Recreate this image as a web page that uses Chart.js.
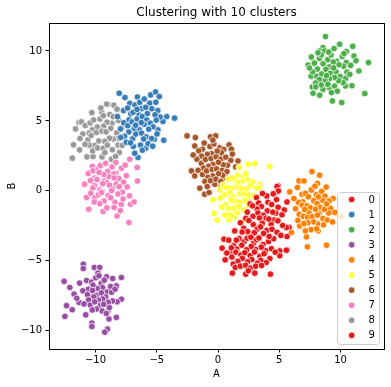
<!DOCTYPE html>
<html>
<head>
<meta charset="utf-8">
<script src="https://cdn.jsdelivr.net/npm/chart.js@4"></script>
<style>
  html, body { margin: 0; padding: 0; background: #fff; }
  #wrap { width: 391px; height: 387px; }
</style>
</head>
<body>
<div id="wrap"><canvas id="scatterChart" width="391" height="387"></canvas></div>
<script>
const chartTitle = 'Clustering with 10 clusters';
const clusterLabels = ['0', '1', '2', '3', '4', '5', '6', '7', '8', '9'];
const clusterColors = ['#e41a1c', '#377eb8', '#4daf4a', '#984ea3', '#ff7f00', '#ffff33', '#a65628', '#f781bf', '#999999', '#e41a1c'];
const xTicks = [-10, -5, 0, 5, 10];
const yTicks = [-10, -5, 0, 5, 10];

// points, [A, B]
const cluster0 = [[4.9,0.36],[4.85,-0.07],[5.63,-0.79],[5.8,-2.61],[5.63,-3.26],[4.82,0.31],[4.93,0.0],[5.58,-2.61],[1.36,-2.86],[1.5,-3.52],
  [2.62,-0.93],[3.14,-0.48],[3.31,-0.87],[3.97,-0.36],[4.08,-0.81],[4.77,-0.62],[4.91,-1.17],[5.41,-1.36],[4.72,-1.58],[4.38,-0.97],
  [4.02,-1.43],[3.54,-1.12],[3.18,-1.29],[2.81,-1.07],[2.39,-1.52],[2.27,-1.96],[2.86,-1.81],[3.26,-1.58],[3.71,-1.74],[3.92,-1.95],
  [4.47,-1.52],[4.58,-2.08],[5.22,-1.71],[5.27,-2.47],[4.89,-2.14],[4.33,-2.38],[4.14,-2.01],[3.61,-2.31],[3.38,-1.93],[2.88,-2.41],
  [2.51,-2.12],[2.09,-2.68],[2.42,-2.91],[3.19,-2.73],[3.47,-2.57],[3.98,-2.82],[4.41,-2.74],[4.82,-2.96],[5.13,-3.18],[4.54,-3.42],
  [4.17,-3.26],[3.72,-3.04],[3.34,-3.37],[2.96,-2.99],[2.68,-3.31],[1.97,-2.94],[4.51,-0.21],[3.63,-0.19],[1.82,-2.28]];
const cluster1 = [[-8.07,6.98],[-7.6,6.67],[-7.2,6.26],[-6.58,6.71],[-5.5,6.86],[-5.1,7.07],[-4.8,6.74],[-4.19,5.31],[-4.5,4.96],[-4.43,3.62],
  [-6.53,2.39],[-6.8,2.69],[-5.2,3.69],[-5.9,3.05],[-3.55,5.2],
  [-7.71,5.74],[-7.38,5.92],[-7.12,5.51],[-6.78,6.14],[-6.39,6.33],[-6.22,5.88],[-5.58,6.27],[-5.41,5.87],[-4.92,5.74],[-4.73,5.28],
  [-5.14,5.44],[-5.77,5.53],[-5.91,5.97],[-6.47,5.43],[-6.93,5.62],[-7.26,5.08],[-7.69,4.87],[-7.96,4.43],[-7.37,4.66],[-7.02,4.94],
  [-6.61,5.14],[-6.18,5.31],[-5.83,5.07],[-5.52,4.84],[-5.04,5.06],[-4.91,4.36],[-5.31,4.58],[-5.66,4.41],[-6.03,4.76],[-6.42,4.37],
  [-6.84,4.48],[-7.28,4.21],[-7.63,3.91],[-7.49,3.48],[-6.97,3.72],[-6.71,4.06],[-6.24,4.13],[-5.87,3.86],[-5.42,3.74],[-4.98,4.07],
  [-5.71,3.38],[-6.07,3.71],[-6.33,3.27],[-6.92,3.18],[-7.14,3.44],[-6.18,2.91],[-5.33,3.19],[-7.94,3.82],[-8.21,5.31],[-6.02,6.57],
  [-5.08,6.34],[-6.61,5.83],[-6.27,4.88],[-6.73,4.69]];
const cluster2 = [[8.77,11.03],[9.93,10.48],[11.0,10.33],[8.57,10.24],[9.47,10.17],[10.48,9.96],[8.3,10.0],[8.71,10.0],[11.1,9.64],[7.62,9.57],
  [12.28,9.17],[7.35,9.0],[11.5,8.57],[7.6,8.2],[10.4,7.5],[7.7,7.43],[8.57,7.26],[9.1,7.38],[9.26,7.03],[7.76,6.98],[8.3,6.84],
  [11.98,6.96],[9.34,6.43],[10.1,6.31],
  [7.87,9.13],[8.28,9.47],[8.43,9.72],[8.97,9.38],[9.22,9.71],[9.68,9.27],[10.14,9.61],[10.47,9.18],[10.83,8.97],[10.52,8.49],
  [10.24,8.91],[9.87,9.02],[9.41,9.21],[9.07,8.86],[8.58,9.08],[8.12,8.71],[7.73,8.51],[8.07,8.19],[8.47,8.36],[8.81,8.69],
  [9.16,8.41],[9.63,8.52],[9.97,8.17],[10.42,8.04],[10.76,8.33],[10.21,7.74],[9.84,7.88],[9.51,8.11],[9.09,8.02],[8.74,7.91],
  [8.27,7.96],[7.96,7.71],[8.42,7.57],[8.97,7.62],[9.52,7.49],[8.16,9.87],[9.03,9.92],[10.28,9.82],[9.44,8.79],[8.86,8.24],
  [7.47,8.78],[11.26,9.31],[10.93,7.52],[9.74,7.13],[7.98,7.43]];
const cluster3 = [[-11.0,-5.24],[-11.0,-5.55],[-10.1,-5.47],[-9.66,-5.47],[-9.8,-5.88],[-12.57,-6.47],[-12.1,-6.9],[-9.1,-6.14],[-8.6,-6.26],
  [-7.89,-6.19],[-8.3,-6.79],[-7.89,-7.74],[-8.24,-7.93],[-12.37,-8.2],[-11.9,-8.5],[-12.5,-8.97],[-10.8,-8.86],[-8.98,-8.57],[-8.9,-9.16],
  [-8.3,-9.04],[-10.3,-9.45],[-10.3,-9.69],[-9.03,-9.88],[-9.25,-10.1],[-11.3,-6.59],[-11.75,-7.38],[-11.35,-7.97],
  [-10.73,-6.41],[-10.32,-6.52],[-9.98,-6.21],[-9.54,-6.61],[-9.29,-6.38],[-8.77,-6.83],[-9.06,-7.22],[-9.43,-6.91],[-9.87,-6.97],
  [-10.21,-6.74],[-10.58,-7.03],[-11.04,-7.14],[-10.66,-7.41],[-10.24,-7.12],[-9.91,-7.46],[-9.52,-7.29],[-9.17,-7.58],[-8.68,-7.24],
  [-8.62,-7.87],[-8.96,-7.96],[-9.41,-7.72],[-9.76,-7.81],[-10.14,-7.57],[-10.57,-7.79],[-10.94,-8.08],[-10.43,-8.16],[-10.07,-7.93],
  [-9.61,-8.19],[-9.34,-8.11],[-8.87,-8.34],[-9.47,-8.58],[-9.93,-8.44],[-10.27,-8.51],[-9.12,-8.76],[-11.53,-7.68],[-8.41,-7.03],
  [-9.72,-6.07]];
const cluster4 = [[7.67,1.38],[8.3,1.12],[6.61,0.71],[7.02,0.71],[8.11,0.53],[5.85,-0.07],[6.48,0.24],[9.39,-0.54],[9.2,-1.26],[10.07,-1.86],
  [5.99,-2.97],[6.67,-2.5],[7.21,-3.29],[7.3,-4.0],[8.85,-3.88],[8.16,-2.86],[9.53,-1.54],
  [6.86,-0.24],[7.14,-0.18],[7.62,0.07],[8.03,-0.27],[8.46,-0.03],[8.72,-0.38],[9.07,-0.72],[8.54,-0.67],[8.18,-0.43],[7.81,-0.71],
  [7.38,-0.42],[6.91,-0.78],[6.57,-0.83],[6.33,-1.28],[6.88,-1.02],[7.27,-1.07],[7.54,-1.21],[8.09,-0.91],[8.33,-1.18],[8.86,-0.94],
  [9.03,-1.58],[8.68,-1.33],[8.24,-1.62],[7.96,-1.31],[7.42,-1.58],[7.08,-1.33],[6.63,-1.68],[6.52,-2.11],[6.97,-1.82],[7.31,-1.91],
  [7.69,-1.84],[8.12,-1.73],[8.57,-1.97],[8.91,-2.08],[8.61,-2.43],[8.13,-2.36],[7.79,-2.21],[7.33,-2.27],[7.01,-2.34],[7.58,-2.77],
  [8.06,-2.72],[7.13,-2.86],[9.34,-2.22],[6.19,-0.54],[8.83,0.27],[7.91,0.33]];
const cluster5 = [[2.45,1.9],[3.0,1.96],[4.22,1.74],[1.55,1.12],[2.04,1.03],[-0.41,-0.64],[0.14,0.07],[0.41,0.41],[-0.33,-1.61],[-0.08,-2.09],
  [0.55,-1.71],[0.9,-2.07],[1.36,-1.86],[2.04,-2.14],[3.4,0.48],[3.4,0.24],
  [0.86,0.84],[1.21,0.91],[1.58,0.62],[2.03,0.71],[2.37,0.83],[2.81,0.64],[3.17,0.21],[2.63,0.38],[2.29,0.12],[1.84,0.19],[1.47,0.27],
  [1.12,0.18],[0.68,0.26],[0.52,-0.28],[0.97,-0.12],[1.24,-0.41],[1.76,-0.23],[2.11,-0.19],[2.49,-0.31],[2.91,-0.34],[2.57,-0.78],
  [2.19,-0.69],[1.79,-0.82],[1.33,-0.71],[1.06,-0.63],[0.61,-0.97],[0.87,-1.26],[1.31,-1.24],[1.69,-1.13],[2.13,-1.38],[2.46,-1.02],
  [1.56,-1.58],[1.02,-1.73],[0.31,-1.16],[2.27,1.24],[1.73,1.67],[3.23,-0.83],[0.19,-0.51]];
const cluster6 = [[-2.53,3.93],[-1.85,3.81],[-0.62,3.86],[-0.19,3.93],[-1.9,3.21],[-1.27,2.98],[0.9,3.29],[1.09,2.98],[1.63,2.14],[1.44,1.71],
  [-2.17,1.43],[-1.9,1.07],[-1.49,0.19],[-1.09,-0.24],[-0.73,-0.11],[0.55,0.96],[-0.27,0.48],
  [-1.57,2.86],[-1.13,3.42],[-0.66,3.17],[-0.34,3.36],[0.14,3.08],[0.47,2.96],[0.27,2.73],[-0.07,2.84],[-0.53,2.66],[-0.87,2.61],
  [-1.34,2.48],[-1.73,2.27],[-1.36,1.97],[-1.03,2.24],[-0.57,2.31],[-0.16,2.43],[0.23,2.27],[0.63,2.41],[1.04,2.18],[0.77,1.83],
  [0.42,1.87],[0.03,2.04],[-0.43,1.88],[-0.77,1.76],[-1.18,1.63],[-1.63,1.47],[-1.27,1.17],[-0.93,1.43],[-0.47,1.54],[-0.12,1.57],
  [0.33,1.46],[0.72,1.38],[0.37,1.12],[0.04,1.23],[-0.43,1.07],[-0.83,0.97],[-1.07,0.68],[-0.62,0.73],[-0.17,0.84],[0.23,0.68],
  [-0.88,0.31],[1.17,2.63],[-2.03,2.57],[-0.42,3.63],[0.21,0.28]];
const cluster7 = [[-7.2,2.26],[-6.6,1.67],[-6.58,0.71],[-7.15,-0.95],[-7.27,-2.26],[-8.24,-1.79],[-9.38,-1.47],[-10.55,-1.31],[-10.74,-0.47],
  [-10.9,0.48],[-10.6,1.24],[-10.25,1.74],[-8.35,2.03],[-6.86,-0.79],[-7.9,-0.95],
  [-10.21,1.44],[-9.78,1.58],[-9.61,1.81],[-9.02,1.39],[-8.66,1.71],[-8.34,1.27],[-7.88,1.62],[-7.49,1.08],[-8.11,0.89],[-8.52,1.21],
  [-8.91,1.02],[-9.33,1.17],[-9.71,1.31],[-10.08,0.91],[-10.42,0.74],[-10.09,0.38],[-9.88,0.81],[-9.29,0.71],[-9.11,0.58],[-8.48,0.93],
  [-8.31,0.49],[-7.71,0.62],[-7.42,0.28],[-7.81,-0.09],[-8.07,0.31],[-8.61,0.18],[-8.86,0.41],[-9.41,0.52],[-9.64,0.08],[-10.22,0.21],
  [-10.39,-0.18],[-10.07,-0.51],[-9.76,-0.27],[-9.46,-0.04],[-8.96,-0.33],[-8.69,0.02],[-8.17,-0.22],[-7.76,-0.58],[-8.42,-0.81],
  [-8.77,-0.49],[-9.31,-0.72],[-9.66,-0.91],[-10.11,-0.79],[-9.08,-1.21],[-8.49,-1.19],[-7.58,1.84],[-9.18,1.97],[-7.23,-0.36],
  [-7.97,-1.41],[-9.52,-0.12]];
const cluster8 = [[-11.9,2.34],[-11.8,3.29],[-11.35,4.89],[-11.15,4.93],[-10.3,5.55],[-9.5,5.64],[-8.98,6.19],[-8.5,6.12],[-11.3,2.93],
  [-10.7,2.43],[-10.2,2.46],[-9.47,2.43],[-8.7,2.26],[-9.1,6.2],[-10.3,5.6],
  [-10.83,4.67],[-10.44,4.86],[-10.16,5.07],[-9.64,5.13],[-9.36,5.37],[-8.84,5.46],[-8.56,5.31],[-8.13,5.04],[-8.67,4.83],[-9.07,4.91],
  [-9.34,4.63],[-9.86,4.57],[-10.27,4.36],[-10.52,4.13],[-11.04,4.07],[-10.63,3.64],[-10.36,3.96],[-9.92,4.18],[-9.47,4.27],[-9.14,4.22],
  [-8.76,4.47],[-8.27,4.14],[-7.86,4.46],[-7.74,3.84],[-8.14,3.76],[-8.57,3.71],[-8.86,3.77],[-9.26,3.54],[-9.74,3.57],[-10.07,3.24],
  [-10.53,3.27],[-10.86,3.33],[-10.24,2.86],[-9.83,3.07],[-9.36,3.04],[-9.04,3.27],[-8.63,2.94],[-8.16,3.27],[-7.83,3.24],[-8.06,2.74],
  [-8.37,2.46],[-9.24,2.74],[-11.27,3.74],[-11.63,4.43],[-9.57,5.93],[-8.24,5.84]];
const cluster9 = [[5.63,-4.21],[5.04,-4.29],[0.49,-3.45],[0.33,-4.09],[1.09,-4.29],[1.17,-5.88],[2.26,-5.95],[3.0,-5.88],[4.28,-5.95],
  [5.04,-4.64],[5.58,-4.24],
  [0.87,-3.52],[1.28,-3.91],[1.73,-3.41],[2.12,-3.63],[2.37,-3.38],[2.91,-3.72],[3.14,-3.49],[3.67,-3.83],[4.12,-3.62],[4.36,-4.13],
  [3.87,-4.27],[3.53,-4.02],[3.06,-4.18],[2.71,-3.97],[2.33,-4.21],[1.94,-3.88],[1.52,-4.16],[1.09,-4.07],[0.72,-4.44],[1.13,-4.73],
  [1.46,-4.38],[1.87,-4.57],[2.18,-4.42],[2.63,-4.63],[2.97,-4.37],[3.42,-4.68],[3.76,-4.49],[4.23,-4.84],[3.93,-5.12],[3.48,-4.97],
  [3.21,-5.16],[2.76,-4.91],[2.41,-5.07],[1.98,-4.82],[1.62,-5.04],[1.24,-5.23],[1.41,-5.47],[1.83,-5.38],[2.26,-5.31],[2.64,-5.52],
  [3.07,-5.38],[3.56,-5.33],[2.47,-5.71],[0.58,-4.93],[4.67,-4.38]];

const clusters = [cluster0, cluster1, cluster2, cluster3, cluster4, cluster5, cluster6, cluster7, cluster8, cluster9];

const FONT = '"DejaVu Sans", sans-serif';
Chart.defaults.font.family = FONT;
Chart.defaults.font.size = 10;
Chart.defaults.color = '#000';

const minus = v => String(v).replace('-', '\u2212');

// frame, title and legend drawn the matplotlib way
const decorPlugin = {
    id: 'decor',
    afterDraw(chart) {
        const ctx = chart.ctx;
        const a = chart.chartArea;
        ctx.save();
        ctx.strokeStyle = '#000';
        ctx.lineWidth = 1;
        ctx.strokeRect(Math.round(a.left) + 0.5, Math.round(a.top) + 0.5, Math.round(a.right - a.left), Math.round(a.bottom - a.top));

        ctx.fillStyle = '#000';
        ctx.font = '12px ' + FONT;
        ctx.textAlign = 'center';
        ctx.textBaseline = 'middle';
        ctx.fillText(chartTitle, (a.left + a.right) / 2, 13);

        // legend in lower right
        const w = 42, rowH = 15.1, h = 152;
        const x0 = Math.round(a.right - 5 - w) + 0.5;
        const y0 = Math.round(a.bottom - 5 - h) + 0.5;
        ctx.beginPath();
        ctx.roundRect(x0, y0, w, h, 3);
        ctx.fillStyle = 'rgba(255,255,255,0.8)';
        ctx.fill();
        ctx.strokeStyle = '#cccccc';
        ctx.stroke();
        ctx.font = '10px ' + FONT;
        ctx.textAlign = 'left';
        clusterLabels.forEach((lab, i) => {
            const cy = y0 + 7 + i * rowH;
            ctx.beginPath();
            ctx.arc(x0 + 14.2, cy, 3.3, 0, Math.PI * 2);
            ctx.fillStyle = clusterColors[i];
            ctx.fill();
            ctx.lineWidth = 0.75;
            ctx.strokeStyle = '#fff';
            ctx.stroke();
            ctx.fillStyle = '#000';
            ctx.fillText(lab, x0 + 31, cy + 0.5);
        });
        ctx.restore();
    }
};

const ctx = document.getElementById('scatterChart').getContext('2d');
const scatterChart = new Chart(ctx, {
    type: 'scatter',
    data: {
        datasets: clusters.map((pts, i) => ({
            label: clusterLabels[i],
            data: pts.map(p => ({ x: p[0], y: p[1] })),
            backgroundColor: clusterColors[i],
            borderColor: '#ffffff',
            borderWidth: 0.75,
            pointRadius: 3.3,
            pointHoverRadius: 3.3
        }))
    },
    options: {
        responsive: false,
        animation: false,
        devicePixelRatio: 1,
        layout: { padding: { top: 23, right: 7, left: 0, bottom: 0 } },
        plugins: {
            legend: { display: false },
            title: { display: false },
            tooltip: { enabled: false }
        },
        scales: {
            x: {
                type: 'linear',
                min: -13.8,
                max: 13.55,
                afterFit: s => { s.height = 38; },
                afterBuildTicks: s => { s.ticks = xTicks.map(v => ({ value: v })); },
                grid: { drawOnChartArea: false, drawTicks: true, tickLength: 3.5, tickColor: '#000' },
                border: { display: false },
                ticks: { padding: 2, maxRotation: 0, callback: v => minus(v) },
                title: { display: true, text: 'A', font: { size: 10 }, padding: { top: 0, bottom: 7 } }
            },
            y: {
                type: 'linear',
                min: -11.3,
                max: 12.0,
                afterFit: s => { s.width = 49; },
                afterBuildTicks: s => { s.ticks = yTicks.map(v => ({ value: v })); },
                grid: { drawOnChartArea: false, drawTicks: true, tickLength: 3.5, tickColor: '#000' },
                border: { display: false },
                ticks: { padding: 3.5, callback: v => minus(v) },
                title: { display: true, text: 'B', font: { size: 10 }, padding: { top: 6, bottom: 0 } }
            }
        }
    },
    plugins: [decorPlugin]
});
</script>
</body>
</html>
